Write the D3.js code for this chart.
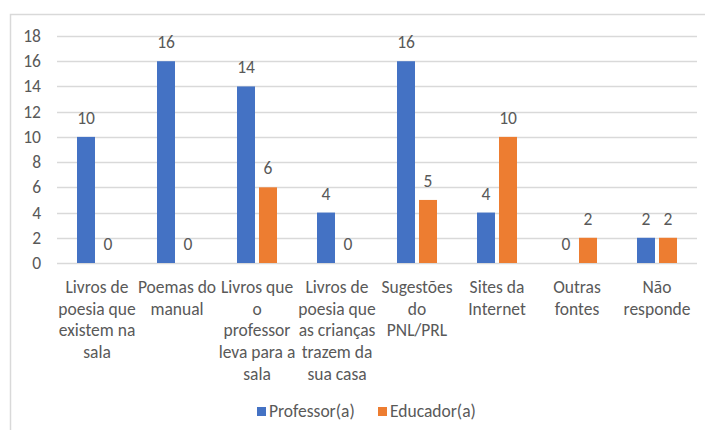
<!DOCTYPE html>
<html>
<head>
<meta charset="utf-8">
<script src="https://cdn.jsdelivr.net/npm/d3@7"></script>
<style>
body { margin: 0; background: #fff; }
text { font-family: Carlito, Calibri, Lato, sans-serif; fill: #595959; }
</style>
</head>
<body>
<div id="chart"></div>
<script>
// categories (line breaks as in the original chart)
var categories = [
    "Livros de\npoesia que\nexistem na\nsala",
    "Poemas do\nmanual",
    "Livros que\no\nprofessor\nleva para a\nsala",
    "Livros de\npoesia que\nas crianças\ntrazem da\nsua casa",
    "Sugestões\ndo\nPNL/PRL",
    "Sites da\nInternet",
    "Outras\nfontes",
    "Não\nresponde"
]
var professor = [10, 16, 14, 4, 16, 4, 0, 2]
var educador = [0, 0, 6, 0, 5, 10, 2, 2]
var seriesNames = ["Professor(a)", "Educador(a)"]
var seriesColors = ["#4472c4", "#ed7d31"]
var yTicks = [0, 2, 4, 6, 8, 10, 12, 14, 16, 18]

var W = 705, H = 430
var fontSize = "17.5px"
var svg = d3.select("#chart").append("svg")
    .attr("width", W).attr("height", H)

// chart frame
svg.append("rect")
    .attr("x", 10.5).attr("y", 14.5)
    .attr("width", 720).attr("height", 440)
    .attr("fill", "none")
    .attr("stroke", "#d9d9d9")
    .attr("stroke-width", 1.5)

var plotLeft = 57, plotRight = 697, plotTop = 36, plotBottom = 263

var y = d3.scaleLinear().domain([0, 18]).range([plotBottom, plotTop])
var x0 = d3.scaleBand().domain(d3.range(categories.length)).range([plotLeft, plotRight])

// gridlines
svg.selectAll("line.grid")
    .data(yTicks)
    .enter()
    .append("line")
    .attr("class", "grid")
    .attr("x1", plotLeft).attr("x2", plotRight)
    .attr("y1", d => Math.round(y(d)) + 0.5)
    .attr("y2", d => Math.round(y(d)) + 0.5)
    .attr("stroke", "#d9d9d9")
    .attr("stroke-width", 1.3)

// y tick labels
svg.selectAll("text.ytick")
    .data(yTicks)
    .enter()
    .append("text")
    .attr("class", "ytick")
    .attr("x", 41)
    .attr("y", d => y(d) + 6)
    .attr("text-anchor", "end")
    .attr("font-size", fontSize)
    .text(d => d)

var barW = 18, gap = 4
var x1 = d3.scaleOrdinal().domain([0, 1]).range([-gap / 2 - barW, gap / 2])

var rows = categories.map((c, i) => ({ i: i, vals: [professor[i], educador[i]] }))

var groups = svg.selectAll("g.cat")
    .data(rows)
    .enter()
    .append("g")
    .attr("class", "cat")
    .attr("transform", d => "translate(" + (x0(d.i) + x0.bandwidth() / 2) + ",0)")

groups.selectAll("rect")
    .data(d => d.vals.map((v, s) => ({ v: v, s: s })))
    .enter()
    .append("rect")
    .attr("x", d => x1(d.s))
    .attr("y", d => y(d.v))
    .attr("width", barW)
    .attr("height", d => y(0) - y(d.v))
    .attr("fill", d => seriesColors[d.s])

// value labels
groups.selectAll("text.val")
    .data(d => d.vals.map((v, s) => ({ v: v, s: s })))
    .enter()
    .append("text")
    .attr("class", "val")
    .attr("x", d => x1(d.s) + barW / 2)
    .attr("y", d => y(d.v) - 13)
    .attr("text-anchor", "middle")
    .attr("font-size", fontSize)
    .text(d => d.v)

// category labels
groups.append("text")
    .attr("class", "cat-label")
    .attr("text-anchor", "middle")
    .attr("font-size", fontSize)
    .selectAll("tspan")
    .data(d => categories[d.i].split("\n"))
    .enter()
    .append("tspan")
    .attr("x", 0)
    .attr("y", (d, k) => 293 + k * 21.7)
    .text(d => d)

// legend
var legend = svg.append("g").attr("transform", "translate(257,417)")
var legX = [0, 121]
seriesNames.forEach(function (name, s) {
    legend.append("rect")
        .attr("x", legX[s]).attr("y", -10)
        .attr("width", 9).attr("height", 9)
        .attr("fill", seriesColors[s])
    legend.append("text")
        .attr("x", legX[s] + 12).attr("y", 0)
        .attr("font-size", fontSize)
        .text(name)
})
</script>
</body>
</html>
